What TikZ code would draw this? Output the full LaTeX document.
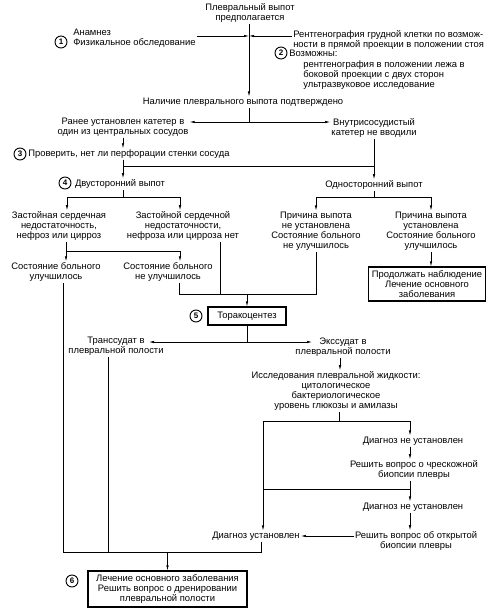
\documentclass[tikz,border=0pt]{standalone}
\usepackage{fontspec}
\setmainfont{Liberation Sans}
\usetikzlibrary{arrows.meta, positioning}

\tikzset{
	txt/.style={align=center, inner sep=1pt, font=\fontsize{9.4}{10}\selectfont},
	ltxt/.style={txt, align=left},
	box/.style={txt, draw, line width=1.1pt, inner sep=2pt},
	num/.style={circle, draw, line width=0.9pt, inner sep=0pt, minimum size=12pt, font=\fontsize{8}{8}\selectfont\bfseries},
	arr/.style={-{Latex[length=5pt, width=2.4pt]}},
	ln/.style={line width=0.6pt}
}

\begin{document}
\begin{tikzpicture}[x=1pt, y=-1pt, ln]
	\useasboundingbox (0,0) rectangle (493,612);

	% columns
	\coordinate (xm) at (249,0);
	\coordinate (xl) at (123,0);
	\coordinate (xa) at (67,0);
	\coordinate (xb) at (180,0);
	\coordinate (xc) at (179,0);
	\coordinate (xd) at (220,0);
	\coordinate (xe) at (340,0);
	\coordinate (xg) at (263,0);
	\coordinate (xr) at (410,0);
	\coordinate (xf) at (63,0);
	\coordinate (xt) at (108,0);

	% start
	\node[txt] (start) at (250,13) {Плевральный выпот\\предполагается};
	\node[ltxt, anchor=west] (anam) at (72,38) {Анамнез\\Физикальное обследование};
	\node[num] (n1) at (61,42) {1};
	\node[ltxt, anchor=west] (rtg) at (292,40) {Рентгенография грудной клетки по возмож-\\ности в прямой проекции в положении стоя};
	\node[num] (n2) at (281,53) {2};
	\node[ltxt, anchor=west] (vozm) at (288,53) {Возможны:};
	\node[ltxt, anchor=west] (list) at (302,75) {рентгенография в положении лежа в\\боковой проекции с двух сторон\\ультразвуковое исследование};
	\node[txt] (nal) at (243,102) {Наличие плеврального выпота подтверждено};

	\draw[arr] (start.south -| xm) -- (nal.north -| xm);
	\draw[arr] ([yshift=2pt]anam.east) -- ([yshift=2pt]anam.east -| xm);
	\draw[arr] ([yshift=4pt]rtg.west) -- ([yshift=4pt]rtg.west -| xm);

	% catheter
	\node[txt] (ran) at (123,127) {Ранее установлен катетер в\\один из центральных сосудов};
	\node[txt] (vnu) at (374,128) {Внутрисосудистый\\катетер не вводили};
	\coordinate (j1) at (249,122);
	\draw (nal.south -| xm) -- (j1);
	\draw[arr] (j1) -- (j1 -| ran.east);
	\draw[arr] (j1) -- (j1 -| vnu.west);

	\node[num] (n3) at (20,154) {3};
	\node[ltxt, anchor=west] (prov) at (27,154) {Проверить, нет ли перфорации стенки сосуда};
	\draw[arr] (ran.south -| xl) -- (prov.north -| xl);

	% sides
	\node[num] (n4) at (65,183) {4};
	\node[txt] (dvu) at (120,184) {Двусторонний выпот};
	\node[txt] (odn) at (374,185) {Односторонний выпот};
	\coordinate (j2) at (374,166);
	\draw[arr] (prov.south -| xl) -- (dvu.north -| xl);
	\draw[arr] (vnu.south -| j2) -- (odn.north -| j2);
	\draw (j2) -- (j2 -| xl);

	\node[txt] (zs) at (59,226) {Застойная сердечная\\недостаточность,\\нефроз или цирроз};
	\node[txt] (zn) at (183,226) {Застойной сердечной\\недостаточности,\\нефроза или цирроза нет};
	\node[txt] (pn) at (316,231) {Причина выпота\\не установлена\\Состояние больного\\не улучшилось};
	\node[txt] (pu) at (431,231) {Причина выпота\\установлена\\Состояние больного\\улучшилось};
	\coordinate (j3) at (123,197);
	\coordinate (j4) at (374,197);
	\draw (dvu.south -| xl) -- (j3);
	\draw[arr] (j3) -| (zs.north -| xa);
	\draw[arr] (j3) -| (zn.north -| xb);
	\draw (odn.south) -- (j4);
	\draw[arr] (j4) -| (pn.north);
	\draw[arr] (j4) -| (pu.north);

	% patient state
	\node[txt] (sl) at (56,272) {Состояние больного\\улучшилось};
	\node[txt] (sm) at (168,272) {Состояние больного\\не улучшилось};
	\coordinate (j5) at (66,251);
	\draw (zs.south -| j5) -- (j5);
	\draw[arr] (j5) -- (j5 |- sl.north);
	\draw[arr] (j5) -| (sm.north -| xb);

	\node[box, minimum width=117pt, minimum height=34pt] (pro) at (427,284) {Продолжать наблюдение\\Лечение основного\\заболевания};
	\draw[arr] (pu.south) -- (pu.south |- pro.north);

	% thoracentesis
	\node[box, minimum width=78pt, minimum height=18pt] (tor) at (247,316) {Торакоцентез};
	\node[num] (n5) at (196,316) {5};
	\coordinate (j6) at (247,294);
	\draw (sm.south -| xc) |- (pn.south |- j6) -- (pn.south);
	\draw (zn.south -| xd) -- (xd |- j6);
	\draw[arr] (j6) -- (tor.north);

	\node[txt] (tr) at (116,346) {Транссудат в\\плевральной полости};
	\node[txt] (ex) at (343,347) {Экссудат в\\плевральной полости};
	\coordinate (j7) at (247,342);
	\coordinate (trin) at (149,342);
	\coordinate (exin) at (312,342);
	\draw (tor.south) -- (j7);
	\draw[arr] (j7) -- (trin);
	\draw[arr] (j7) -- (exin);

	% pleural fluid
	\node[txt] (isl) at (336,391) {Исследования плевральной жидкости:\\цитологическое\\бактериологическое\\уровень глюкозы и амилазы};
	\draw[arr] (ex.south -| xe) -- (isl.north -| xe);

	\node[txt] (d1) at (413,441) {Диагноз не установлен};
	\node[txt] (r1) at (414,470) {Решить вопрос о чрескожной\\биопсии плевры};
	\node[txt] (d2) at (413,507) {Диагноз не установлен};
	\node[txt] (r2) at (416,541) {Решить вопрос об открытой\\биопсии плевры};
	\node[txt] (du) at (256,536) {Диагноз установлен};
	\coordinate (j8) at (339,421);
	\coordinate (j9) at (410,489);
	\draw (isl.south -| j8) -- (j8);
	\draw[arr] (j8) -| (du.north -| xg);
	\draw[arr] (j8) -| (d1.north -| xr);
	\draw[arr] (d1.south -| xr) -- (r1.north -| xr);
	\draw[arr] (r1.south -| xr) -- (d2.north -| xr);
	\draw (j9) -- (j9 -| xg);
	\draw[arr] (d2.south -| xr) -- (r2.north -| xr);
	\draw[arr] ([yshift=5pt]r2.west) -- ([yshift=5pt]r2.west -| du.east);

	% treatment
	\node[box, minimum width=159pt, minimum height=36pt] (fin) at (167.5,589) {Лечение основного заболевания\\Решить вопрос о дренировании\\плевральной полости};
	\node[num] (n6) at (72,581) {6};
	\coordinate (j10) at (261,552);
	\draw (du.south -| j10) -- (j10) -- (j10 -| xf) -- (xf |- sl.south);
	\draw (tr.south -| xt) -- (xt |- j10);
	\draw[arr] (fin.north |- j10) -- (fin.north);
\end{tikzpicture}
\end{document}
